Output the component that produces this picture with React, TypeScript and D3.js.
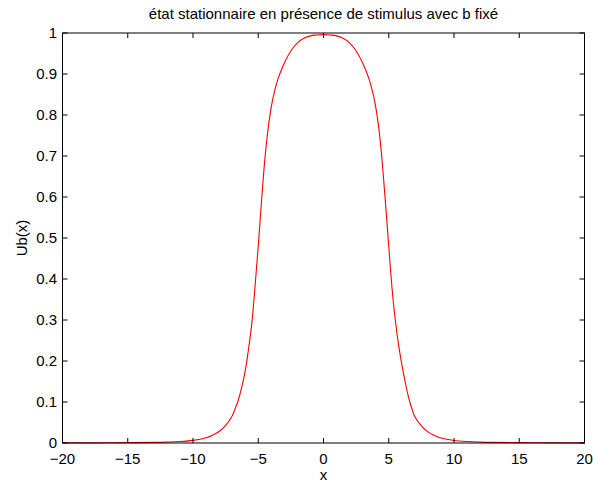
import React from "react";
import * as d3 from "d3";

const xValues = [
  -20, -17.5, -15, -13, -12, -11, -10, -9, -8.5, -8, -7.5, -7, -6.75, -6.5, -6.25, -6,
  -5.75, -5.5, -5.25, -5, -4.75, -4.5, -4.25, -4, -3.75, -3.5, -3, -2.5, -2, -1.5, -1, -0.5,
  0,
  0.5, 1, 1.5, 2, 2.5, 3, 3.5, 3.75, 4, 4.25, 4.5, 4.75, 5, 5.25, 5.5, 5.75, 6, 6.25, 6.5,
  6.75, 7, 7.5, 8, 8.5, 9, 10, 11, 12, 13, 15, 17.5, 20,
];
const ubValues = [
  0.0002, 0.0004, 0.0008, 0.0015, 0.0022, 0.0035, 0.0065, 0.013, 0.019, 0.028, 0.043, 0.066,
  0.085, 0.108, 0.138, 0.176, 0.228, 0.29, 0.38, 0.48, 0.59, 0.69, 0.765, 0.82, 0.858,
  0.887, 0.927, 0.956, 0.976, 0.987, 0.993, 0.995,
  0.996,
  0.995, 0.993, 0.987, 0.976, 0.956, 0.927, 0.887, 0.858, 0.82, 0.765, 0.685, 0.585, 0.48,
  0.378, 0.3, 0.24, 0.192, 0.15, 0.114, 0.086, 0.064, 0.042, 0.027, 0.018, 0.012, 0.0062,
  0.0035, 0.0022, 0.0015, 0.0008, 0.0004, 0.0002,
];
const xTicks = [-20, -15, -10, -5, 0, 5, 10, 15, 20];
const yTicks = [0, 0.1, 0.2, 0.3, 0.4, 0.5, 0.6, 0.7, 0.8, 0.9, 1];
const titleText = "état stationnaire en présence de stimulus avec b fixé";
const xLabel = "x";
const yLabel = "Ub(x)";

const W = 593;
const H = 484;
const left = 62.5;
const right = 584.5;
const top = 33;
const bottom = 443;
const font = "'Liberation Sans', Arial, Helvetica, sans-serif";
const fs = 15;

const fmt = (v: number) => {
  const s = String(Math.round(v * 10) / 10);
  return s.startsWith("-") ? "\u2212" + s.slice(1) : s;
};

export default function App() {
  const x = d3.scaleLinear().domain([-20, 20]).range([left, right]);
  const y = d3.scaleLinear().domain([0, 1]).range([bottom, top]);
  const pts: [number, number][] = xValues.map((v, i) => [v, ubValues[i]]);
  const line = d3
    .line<[number, number]>()
    .x((d) => x(d[0]))
    .y((d) => y(d[1]))
    .curve(d3.curveCatmullRom.alpha(0.5));
  const tl = 5;
  return (
    <svg
      width={W}
      height={H}
      style={{ position: "absolute", left: 0, top: 0, background: "#fff" }}
      fontFamily={font}
    >
      <rect x={0} y={0} width={W} height={H} fill="#fff" />
      <path d={line(pts) || ""} fill="none" stroke="#ff0000" strokeWidth={1.1} />
      <rect
        x={left}
        y={top}
        width={right - left}
        height={bottom - top}
        fill="none"
        stroke="#000"
        strokeWidth={1}
      />
      {xTicks.map((t) => (
        <g key={"x" + t}>
          <line x1={x(t)} x2={x(t)} y1={bottom} y2={bottom - tl} stroke="#000" />
          <line x1={x(t)} x2={x(t)} y1={top} y2={top + tl} stroke="#000" />
          <text x={x(t)} y={463.5} textAnchor="middle" fontSize={fs} fill="#000">
            {fmt(t)}
          </text>
        </g>
      ))}
      {yTicks.map((t) => (
        <g key={"y" + t}>
          <line x1={left} x2={left + tl} y1={y(t)} y2={y(t)} stroke="#000" />
          <line x1={right} x2={right - tl} y1={y(t)} y2={y(t)} stroke="#000" />
          <text x={57} y={y(t) + 5} textAnchor="end" fontSize={fs} fill="#000">
            {fmt(t)}
          </text>
        </g>
      ))}
      <text x={(left + right) / 2} y={19} textAnchor="middle" fontSize={fs} fill="#000">
        {titleText}
      </text>
      <text x={(left + right) / 2} y={480} textAnchor="middle" fontSize={fs} fill="#000">
        {xLabel}
      </text>
      <text
        transform={`translate(27, ${(top + bottom) / 2}) rotate(-90)`}
        textAnchor="middle"
        fontSize={fs}
        fill="#000"
      >
        {yLabel}
      </text>
    </svg>
  );
}
